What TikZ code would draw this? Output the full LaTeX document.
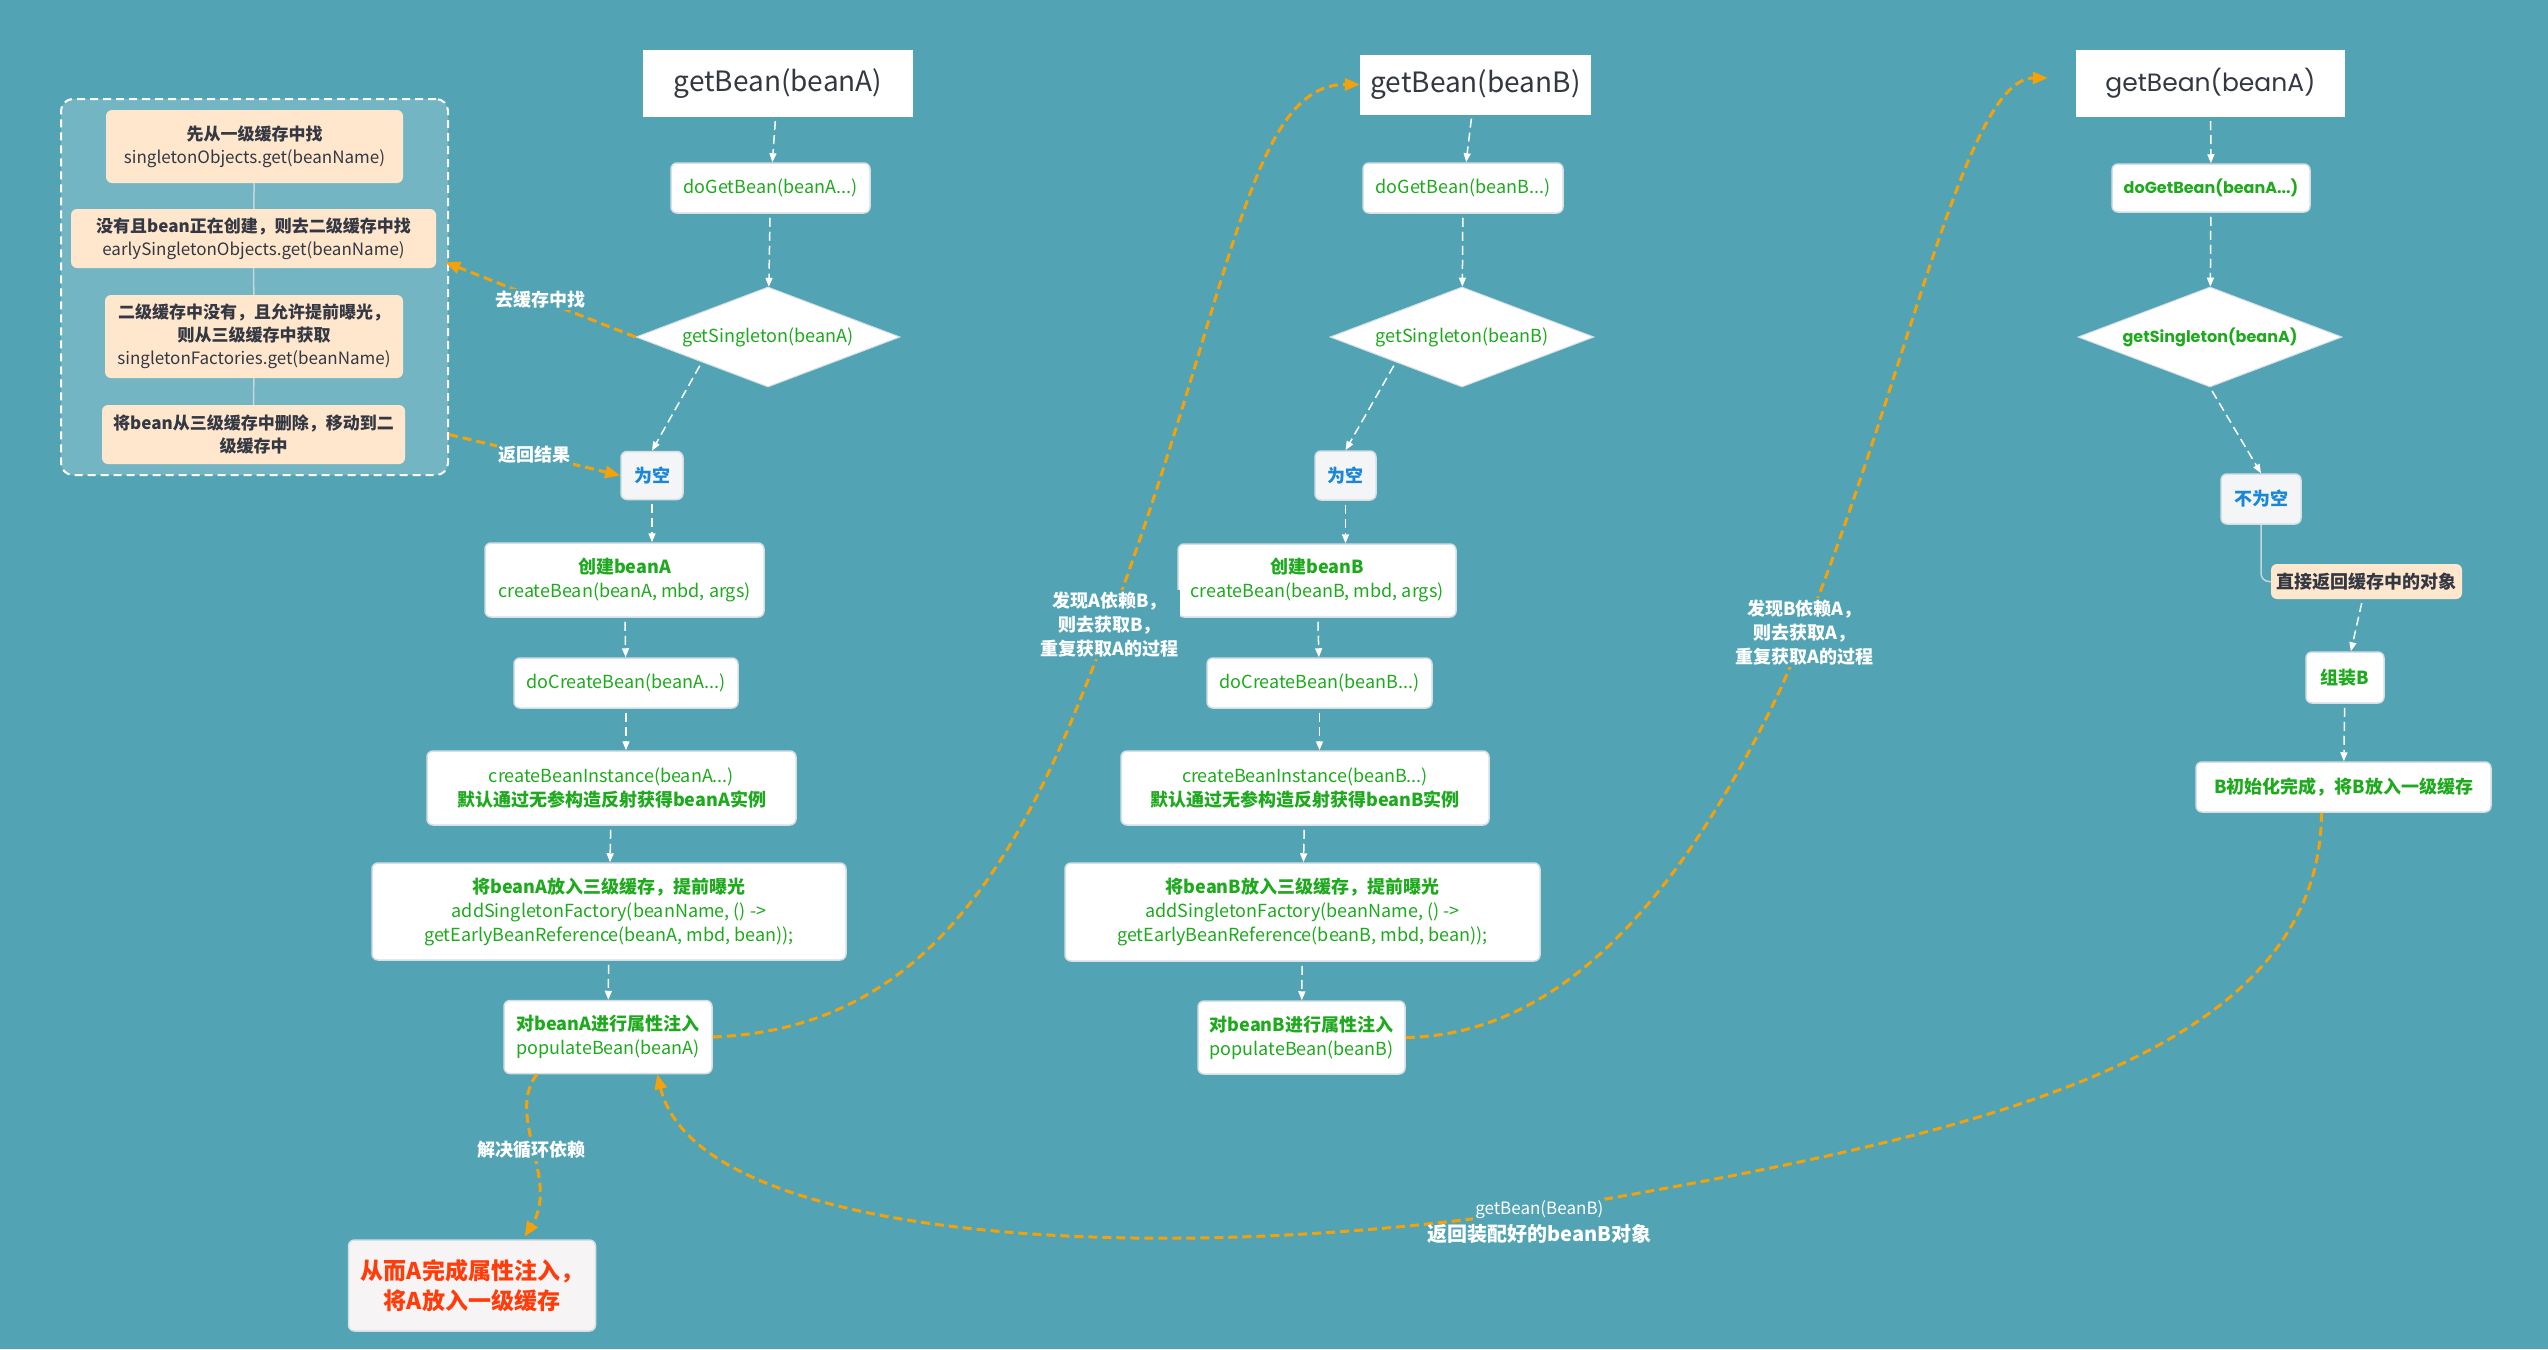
\documentclass[tikz,border=0pt]{standalone}
\usepackage{fontspec}
\setmainfont{Noto Sans CJK SC}
\newfontfamily\popfont{Poppins}
\usetikzlibrary{shapes.geometric, calc, arrows.meta, positioning}

\definecolor{bgteal}{HTML}{52A4B5}
\definecolor{cachefill}{HTML}{74B5C3}
\definecolor{peach}{HTML}{FFE7CE}
\definecolor{codegreen}{HTML}{1FA91F}
\definecolor{emptyblue}{HTML}{1A86D6}
\definecolor{emptyfill}{HTML}{F4F5F7}
\definecolor{resultred}{HTML}{FF3C0A}
\definecolor{resultfill}{HTML}{F7F4F6}
\definecolor{jumporange}{HTML}{F4A10A}
\definecolor{edgegray}{HTML}{D6DEE6}
\definecolor{darktext}{HTML}{333842}
\definecolor{linkgray}{HTML}{C6D6DC}

\newcommand{\stepfont}{\fontsize{18}{24}\selectfont}
\newcommand{\cachefont}{\fontsize{17}{23}\selectfont}
\newcommand{\titlefont}{\fontsize{28}{32}\selectfont}
\newcommand{\tagfont}{\fontsize{18}{24}\selectfont\bfseries}

\begin{document}
\begin{tikzpicture}[x=1pt, y=-1pt]

            \tikzstyle{titlebox} = [fill=white, text=darktext, font=\titlefont, inner sep=0];
            \tikzstyle{stepbox} = [draw=edgegray, line width=1.5pt, fill=white, rounded corners=6pt, text=codegreen, font=\stepfont, align=center, inner sep=0];
            \tikzstyle{emptybox} = [stepbox, fill=emptyfill, text=emptyblue, font=\stepfont\bfseries];
            \tikzstyle{resultbox} = [stepbox, fill=resultfill, text=resultred, font=\fontsize{23}{30}\selectfont\bfseries];
            \tikzstyle{decision} = [diamond, aspect=2.64, draw=edgegray, line width=1pt, fill=white, text=codegreen, font=\stepfont, inner sep=0, minimum width=264, minimum height=100];
            \tikzstyle{cachestep} = [fill=peach, rounded corners=6pt, text=darktext, font=\cachefont, align=center, inner sep=0];
            \tikzstyle{flow} = [white, line width=1.5pt, dash pattern=on 9pt off 5pt, -{Triangle[length=9pt, width=7pt]}, shorten <=4pt];
            \tikzstyle{jump} = [jumporange, line width=3pt, dash pattern=on 9pt off 5pt, -{Triangle[length=15pt, width=12pt]}];
            \tikzstyle{tag} = [text=white, font=\tagfont, fill=bgteal, inner sep=2pt, align=center];
            \tikzstyle{linkline} = [linkgray, line width=1.5pt];

            \fill[bgteal] (0,0) rectangle (2548,1349);
            \useasboundingbox (0,0) rectangle (2548,1349);

            \node[draw=white, line width=2pt, dash pattern=on 8pt off 5pt, fill=cachefill, rounded corners=12pt, minimum width=387, minimum height=376] (cache) at (254.5,287) {};
            \node[cachestep, minimum width=297, minimum height=73] (l1) at (254.5,146.5) {{\bfseries 先从一级缓存中找}\\singletonObjects.get(beanName)};
            \node[cachestep, minimum width=365, minimum height=59] (l2) at (253.5,238.5) {{\bfseries 没有且bean正在创建，则去二级缓存中找}\\earlySingletonObjects.get(beanName)};
            \node[cachestep, minimum width=298, minimum height=83] (l3) at (254,336.5) {{\bfseries 二级缓存中没有，且允许提前曝光，}\\{\bfseries 则从三级缓存中获取}\\singletonFactories.get(beanName)};
            \node[cachestep, minimum width=303, minimum height=59] (l4) at (253.5,434.5) {{\bfseries 将bean从三级缓存中删除，移动到二}\\{\bfseries 级缓存中}};
            \draw[linkline] (l1) -- (l2);
            \draw[linkline] (l2) -- (l3);
            \draw[linkline] (l3) -- (l4);

            \node[titlebox, minimum width=270, minimum height=67] (gA) at (778,83.5) {getBean(beanA)};
            \node[stepbox, minimum width=199, minimum height=50] (dA) at (770.5,188) {doGetBean(beanA...)};
            \node[decision] (sA) at (768,337) {getSingleton(beanA)};
            \node[emptybox, minimum width=62, minimum height=48] (eA) at (652,475.5) {为空};
            \node[stepbox, minimum width=279, minimum height=74] (cA) at (624.5,580) {{\bfseries 创建beanA}\\createBean(beanA, mbd, args)};
            \node[stepbox, minimum width=224, minimum height=50] (dcA) at (626,683) {doCreateBean(beanA...)};
            \node[stepbox, minimum width=369, minimum height=74] (ciA) at (611.5,788) {createBeanInstance(beanA...)\\{\bfseries 默认通过无参构造反射获得beanA实例}};
            \node[stepbox, minimum width=474, minimum height=97] (afA) at (609,911.5) {{\bfseries 将beanA放入三级缓存，提前曝光}\\addSingletonFactory(beanName, () ->\\getEarlyBeanReference(beanA, mbd, bean));};
            \node[stepbox, minimum width=208, minimum height=73] (pA) at (608,1037) {{\bfseries 对beanA进行属性注入}\\populateBean(beanA)};
            \node[resultbox, minimum width=247, minimum height=91] (rA) at (472,1285.5) {从而A完成属性注入，\\将A放入一级缓存};

            \draw[flow] (gA) -- (dA);
            \draw[flow] (dA) -- (sA);
            \draw[flow] (sA.south west) -- (eA.north);
            \draw[flow] (eA.south) -- (eA.south |- cA.north);
            \draw[flow] (cA) -- (dcA);
            \draw[flow] (dcA.south) -- (dcA.south |- ciA.north);
            \draw[flow] (ciA) -- (afA);
            \draw[flow] (afA) -- (pA);

            \node[titlebox, minimum width=231, minimum height=60] (gB) at (1475.5,84.5) {getBean(beanB)};
            \node[stepbox, minimum width=200, minimum height=50] (dB) at (1463,188) {doGetBean(beanB...)};
            \node[decision] (sB) at (1462,337) {getSingleton(beanB)};
            \node[emptybox, minimum width=61, minimum height=49] (eB) at (1345.5,475.5) {为空};
            \node[stepbox, minimum width=278, minimum height=73] (cB) at (1317,580.5) {{\bfseries 创建beanB}\\createBean(beanB, mbd, args)};
            \node[stepbox, minimum width=225, minimum height=50] (dcB) at (1319.5,683) {doCreateBean(beanB...)};
            \node[stepbox, minimum width=368, minimum height=74] (ciB) at (1305,788) {createBeanInstance(beanB...)\\{\bfseries 默认通过无参构造反射获得beanB实例}};
            \node[stepbox, minimum width=475, minimum height=98] (afB) at (1302.5,912) {{\bfseries 将beanB放入三级缓存，提前曝光}\\addSingletonFactory(beanName, () ->\\getEarlyBeanReference(beanB, mbd, bean));};
            \node[stepbox, minimum width=207, minimum height=73] (pB) at (1301.5,1037.5) {{\bfseries 对beanB进行属性注入}\\populateBean(beanB)};

            \draw[flow] (gB) -- (dB);
            \draw[flow] (dB) -- (sB);
            \draw[flow] (sB.south west) -- (eB.north);
            \draw[flow] (eB.south) -- (eB.south |- cB.north);
            \draw[flow] (cB) -- (dcB);
            \draw[flow] (dcB.south) -- (dcB.south |- ciB.north);
            \draw[flow] (ciB) -- (afB);
            \draw[flow] (afB) -- (pB);

            \node[titlebox, font=\popfont\fontsize{25}{28}\selectfont, minimum width=269, minimum height=67] (gC) at (2210.5,83.5) {getBean(beanA)};
            \node[stepbox, font=\popfont\bfseries\fontsize{16}{20}\selectfont, minimum width=198, minimum height=48] (dC) at (2211,188) {doGetBean(beanA...)};
            \node[decision, font=\popfont\bfseries\fontsize{16}{20}\selectfont] (sC) at (2210,337) {getSingleton(beanA)};
            \node[emptybox, minimum width=80, minimum height=50] (nC) at (2261,499) {不为空};
            \node[cachestep, font=\stepfont\bfseries, minimum width=191, minimum height=35] (rtC) at (2366.5,581.5) {直接返回缓存中的对象};
            \node[stepbox, font=\stepfont\bfseries, minimum width=78, minimum height=51] (zC) at (2345,677.5) {组装B};
            \node[stepbox, font=\stepfont\bfseries, minimum width=295, minimum height=50] (bC) at (2343.5,787) {B初始化完成，将B放入一级缓存};

            \draw[flow] (gC) -- (dC);
            \draw[flow] (dC) -- (sC);
            \draw[flow] (sC.south) -- (nC.north);
            \draw[linkline, rounded corners=8pt] (nC.south) |- (rtC.west);
            \draw[flow] (rtC) -- (zC);
            \draw[flow] (zC) -- (bC);

            \coordinate (cacheIn) at ($(l2.south east)+(9,-6)$);
            \coordinate (gCin) at ($(gC.west)+(-28,-5.5)$);

            \draw[jump] (sA.west) -- node[tag] {去缓存中找} (cacheIn);
            \draw[jump] (l4.east -| cache.east) -- node[tag] {返回结果} (eA.west);
            \draw[jump] (pA.east) .. controls (900,1030) and (1000,900) .. (1080,700) .. controls (1230,330) and (1240,84) .. (gB.west) node[tag, pos=0.07] {发现A依赖B，\\则去获取B，\\重复获取A的过程};
            \draw[jump] (pB.east) .. controls (1560,1035) and (1680,900) .. (1780,690) .. controls (1900,420) and (1960,78) .. (gCin) node[tag, pos=0.07] {发现B依赖A，\\则去获取A，\\重复获取A的过程};
            \draw[jump] ([xshift=-22pt]bC.south) .. controls (2320,1050) and (2000,1130) .. (1600,1200) .. controls (1200,1270) and (700,1250) .. ($(pA.south)!0.47!(pA.south east)$) node[tag, font=\fontsize{17}{20}\selectfont, pos=0.05] (gbl) {getBean(BeanB)};
            \node[tag, fill=none, font=\fontsize{20}{24}\selectfont\bfseries, below=0pt of gbl] {返回装配好的beanB对象};
            \draw[jump, shorten >=3pt] ([xshift=-71pt]pA.south) .. controls (505,1115) and (560,1180) .. ([xshift=51pt]rA.north) node[tag, pos=0.5] {解决循环依赖};

\end{tikzpicture}
\end{document}
